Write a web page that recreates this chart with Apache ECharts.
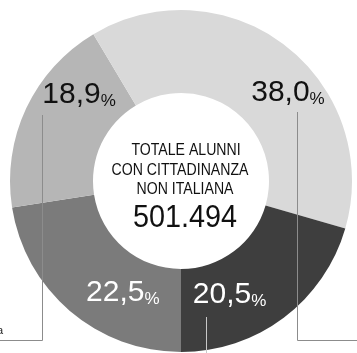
<!DOCTYPE html>
<html>
<head>
<meta charset="utf-8">
<script src="https://cdn.jsdelivr.net/npm/echarts@6/dist/echarts.min.js"></script>
<style>
html,body{margin:0;padding:0;background:#fff;}
#chart{width:357px;height:353px;}
</style>
</head>
<body>
<div id="chart"></div>
<script>
// Data (clockwise from 6 o'clock)
var categories = ['Gruppo A', 'Gruppo B', 'Gruppo C', 'Gruppo D'];
var values = [22.5, 18.9, 38.0, 20.5];
var centerLines = ['TOTALE ALUNNI', 'CON CITTADINANZA', 'NON ITALIANA'];
var totalLabel = '501.494';

var colors = ['#7b7b7b', '#b6b6b6', '#d9d9d9', '#3e3e3e'];
var labelColors = ['#ffffff', '#111111', '#111111', '#ffffff'];
var labelOffsets = [[28, 11], [18, -30], [26, 17], [-31, 8]];

var FONT = '"Liberation Sans", Arial, Helvetica, sans-serif';

var data = categories.map(function (c, i) {
  return {
    name: c,
    value: values[i],
    itemStyle: { color: colors[i] },
    label: {
      offset: labelOffsets[i],
      rich: {
        v: { fontSize: 30, color: labelColors[i], fontFamily: FONT, lineHeight: 30, verticalAlign: 'bottom' },
        p: { fontSize: 17, color: labelColors[i], fontFamily: FONT, lineHeight: 23, verticalAlign: 'bottom' }
      }
    }
  };
});

function centerText(txt, x, y, size, sx) {
  return {
    type: 'text', x: x, y: y, scaleX: sx, z: 100,
    style: { text: txt, fontSize: size, fontFamily: FONT, fill: '#111', align: 'center', verticalAlign: 'middle' }
  };
}

var chart = echarts.init(document.getElementById('chart'), null, { renderer: 'canvas' });
chart.setOption({
  animation: false,
  backgroundColor: '#ffffff',
  series: [{
    type: 'pie',
    center: [181, 181],
    radius: [88, 171],
    startAngle: -90,
    clockwise: true,
    silent: true,
    label: {
      show: true,
      position: 'inside',
      formatter: function (p) {
        return '{v|' + p.value.toFixed(1).replace('.', ',') + '}{p|%}';
      }
    },
    labelLine: { show: false },
    itemStyle: { borderWidth: 0 },
    data: data
  }],
  graphic: [
    { type: 'polyline', shape: { points: [[42.5, 115], [42.5, 340.5], [0, 340.5]] }, style: { stroke: '#8c8c8c', lineWidth: 1, fill: null }, z: 100 },
    { type: 'polyline', shape: { points: [[297.5, 112], [297.5, 340.5], [357, 340.5]] }, style: { stroke: '#8c8c8c', lineWidth: 1, fill: null }, z: 100 },
    { type: 'polyline', shape: { points: [[206.5, 317], [206.5, 353]] }, style: { stroke: '#c8c8c8', lineWidth: 1, fill: null }, z: 100 },
    { type: 'text', x: 3, y: 331, z: 100, style: { text: 'a', fontSize: 11, fontFamily: FONT, fill: '#222', align: 'right', verticalAlign: 'middle' } },
    centerText(centerLines[0], 186, 150, 17, 0.83),
    centerText(centerLines[1], 180, 170, 17, 0.83),
    centerText(centerLines[2], 185, 189, 17, 0.83),
    centerText(totalLabel, 185, 218.5, 31, 0.93)
  ]
});
</script>
</body>
</html>
